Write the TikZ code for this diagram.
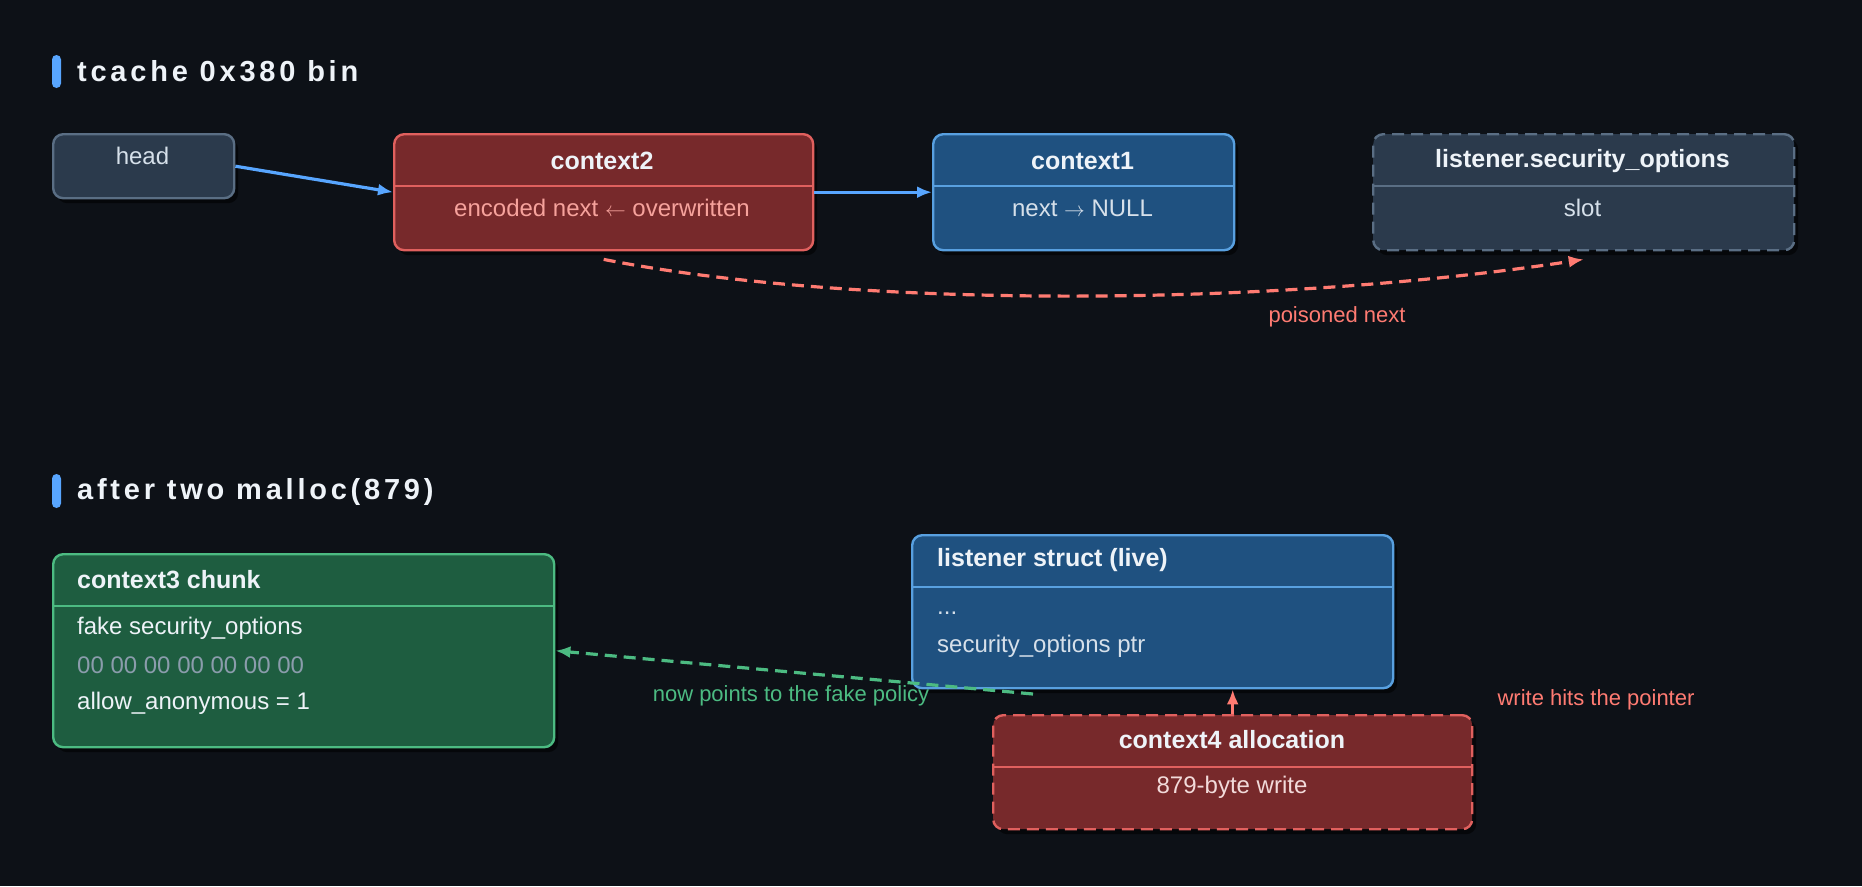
\documentclass[tikz,border=0pt]{standalone}
\usepackage{fontspec}
\setmainfont{Liberation Sans}
\usetikzlibrary{arrows.meta,shadows}

\definecolor{bgdark}{HTML}{0D1117}
\definecolor{accent}{HTML}{58A6FF}
\definecolor{slatefill}{HTML}{2B3A4C}
\definecolor{slateline}{HTML}{5A6E84}
\definecolor{redfill}{HTML}{77292B}
\definecolor{redline}{HTML}{E0605E}
\definecolor{redtext}{HTML}{F6A29C}
\definecolor{salmon}{HTML}{FF7B72}
\definecolor{bluefill}{HTML}{1F5180}
\definecolor{blueline}{HTML}{58A0E0}
\definecolor{greenfill}{HTML}{1E5D40}
\definecolor{greenline}{HTML}{4CBB82}
\definecolor{lighttext}{HTML}{EEF3F8}
\definecolor{softtext}{HTML}{D6E0EA}
\definecolor{hextext}{HTML}{8B9CAC}
\definecolor{pinktext}{HTML}{F2DADA}

\newcommand{\thinarrow}[1]{{\fontsize{20}{24}\selectfont$#1$}}

\tikzset{
  chunk/.style={draw, line width=2.4pt, rounded corners=10pt, inner sep=0pt, anchor=north west,
    drop shadow={fill=black, opacity=0.55, shadow xshift=4pt, shadow yshift=-5pt}},
  freebox/.style={chunk, fill=slatefill, draw=slateline},
  hotbox/.style={chunk, fill=redfill, draw=redline},
  livebox/.style={chunk, fill=bluefill, draw=blueline},
  fakebox/.style={chunk, fill=greenfill, draw=greenline},
  ghost/.style={dash pattern=on 12pt off 7pt},
  divider/.style={line width=1.6pt},
  chunkname/.style={font=\fontsize{25}{30}\selectfont\bfseries, text=lighttext},
  field/.style={font=\fontsize{24}{29}\selectfont, text=softtext},
  edgenote/.style={font=\fontsize{22}{26}\selectfont},
  heading/.style={font=\fontsize{29}{35}\selectfont\bfseries\addfontfeature{LetterSpace=13}, text=lighttext, anchor=west, inner sep=0pt},
  headbar/.style={fill=accent, rounded corners=4.5pt},
  link/.style={-{Latex[length=15pt,width=12pt]}, line width=3.2pt},
}

\begin{document}
\begin{tikzpicture}[x=1pt,y=-1pt]
%%%%% START %%%%%
\useasboundingbox[fill=bgdark] (0,0) rectangle (1862,886);

\fill[headbar] (52,55) rectangle (61,88);
\node[heading] (bintitle) at (77,71) {tcache 0x380 bin};

\node[freebox, minimum width=181pt, minimum height=64pt] (head) at (52,133) {};
\node[field] (headlabel) at (142.5,156) {head};

\node[hotbox, minimum width=419pt, minimum height=116pt] (ctxtwo) at (393,133) {};
\draw[divider, redline] (ctxtwo.west |- 0,186) -- (ctxtwo.east |- 0,186);
\node[chunkname] (ctxtwoname) at (602,161) {context2};
\node[field, text=redtext] (ctxtwonext) at (602,208) {encoded next \thinarrow{\leftarrow} overwritten};

\node[livebox, minimum width=301pt, minimum height=116pt] (ctxone) at (932,133) {};
\draw[divider, blueline] (ctxone.west |- 0,186) -- (ctxone.east |- 0,186);
\node[chunkname] (ctxonename) at (1082.5,161) {context1};
\node[field] (ctxonenext) at (1082.5,208) {next \thinarrow{\rightarrow} NULL};

\node[freebox, ghost, minimum width=421pt, minimum height=116pt] (slot) at (1372,133) {};
\draw[divider, slateline] (slot.west |- 0,186) -- (slot.east |- 0,186);
\node[chunkname] (slotname) at (1582.5,161) {listener.security\_options};
\node[field] (slotfield) at (1582.5,208) {slot};

\draw[link, accent] (head.east) -- (ctxtwo.west);
\draw[link, accent] (ctxtwo.east) -- (ctxone.west);
\draw[link, salmon, ghost] ([yshift=-8pt]ctxtwo.south) .. controls (850,308) and (1263,308) .. ([yshift=-8pt]slot.south);
\node[edgenote, text=salmon] (poisonnote) at (1337,317) {poisoned next};

\fill[headbar] (52,474) rectangle (61,508);
\node[heading] (malloctitle) at (77,492) {after two malloc(879)};

\node[fakebox, minimum width=501pt, minimum height=193pt] (fake) at (52,553) {};
\draw[divider, greenline] (fake.west |- 0,606) -- (fake.east |- 0,606);
\node[chunkname, anchor=west, inner sep=0pt] (fakename) at (77,580) {context3 chunk};
\node[field, anchor=west, inner sep=0pt, text=lighttext] (fakeopts) at (77,628) {fake security\_options};
\node[field, anchor=west, inner sep=0pt, text=hextext] (fakebytes) at (77,665) {00 00 00 00 00 00 00};
\node[field, anchor=west, inner sep=0pt, text=lighttext] (fakeanon) at (77,703) {allow\_anonymous = 1};

\node[livebox, minimum width=481pt, minimum height=153pt] (live) at (911,534) {};
\draw[divider, blueline] (live.west |- 0,587) -- (live.east |- 0,587);
\node[chunkname, anchor=west, inner sep=0pt] (livename) at (937,560) {listener struct (live)};
\node[field, anchor=west, inner sep=0pt] (livedots) at (937,613) {...};
\node[field, anchor=west, inner sep=0pt] (liveptr) at (937,646) {security\_options ptr};

\node[hotbox, ghost, minimum width=479pt, minimum height=114pt] (ctxfour) at (992,714) {};
\draw[divider, redline] (ctxfour.west |- 0,767) -- (ctxfour.east |- 0,767);
\node[chunkname] (ctxfourname) at (1232,740) {context4 allocation};
\node[field, text=pinktext] (ctxfourwrite) at (1232,787) {879-byte write};

\coordinate (ptrslot) at (1033,694);
\draw[link, salmon] (ctxfour.north) -- (ctxfour.north |- live.south);
\draw[link, greenline, ghost] (ptrslot) -- (fake.east);
\node[edgenote, text=greenline] (pointsnote) at (791,696) {now points to the fake policy};
\node[edgenote, text=salmon] (hitsnote) at (1596,700) {write hits the pointer};
%%%%% END %%%%%
\end{tikzpicture}
\end{document}
